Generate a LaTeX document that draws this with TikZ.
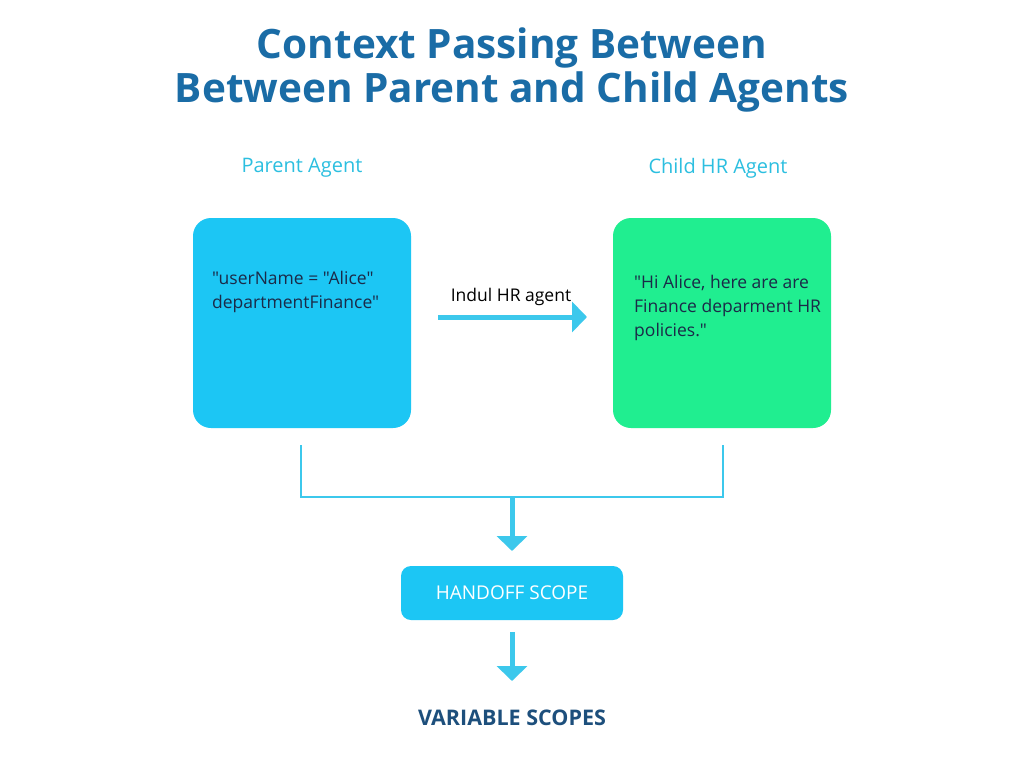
\documentclass[tikz,border=0pt]{standalone}
\usepackage{fontspec}
\setmainfont{Open Sans}[Ligatures=TeXOff]
\usetikzlibrary{arrows.meta}
\definecolor{titleblue}{HTML}{1A6CA6}
\definecolor{cyanbox}{HTML}{1CC6F4}
\definecolor{greenbox}{HTML}{20EE90}
\definecolor{labelcyan}{HTML}{2CBFE0}
\definecolor{navytext}{HTML}{1B2A48}
\definecolor{linecyan}{HTML}{3CC8EC}
\definecolor{scopeblue}{HTML}{1D4F7C}
\tikzset{
  agentbox/.style={rounded corners=18pt, minimum width=218pt, minimum height=210pt, inner sep=0pt},
  heading/.style={text=labelcyan, font=\fontsize{20}{24}\selectfont},
  bodytext/.style={text=navytext, font=\fontsize{17.5}{24}\selectfont, align=left, anchor=north west, inner sep=0pt},
  thickarrow/.style={draw=linecyan, line width=5pt, -{Triangle[length=15pt,width=30pt]}},
  thinline/.style={draw=linecyan, line width=1.8pt},
}
\begin{document}
\begin{tikzpicture}[x=1pt,y=-1pt]
\useasboundingbox[fill=white] (0,0) rectangle (1024,768);
% title
\node[text=titleblue, font=\fontsize{40.5}{44}\selectfont\bfseries, align=center] (title) at (512,70)
  {Context Passing Between\\Between Parent and Child Agents};
% headings
\node[heading] (ph) at (302,168) {Parent Agent};
\node[heading] (ch) at (718,168) {Child HR Agent};
% boxes
\node[agentbox, fill=cyanbox] (parent) at (302,323) {};
\node[agentbox, fill=greenbox] (child) at (722,323) {};
\node[bodytext] (ptext) at (212,271) {"userName = "Alice"\\departmentFinance"};
\node[bodytext] (ctext) at (634,275) {"Hi Alice, here are are\\Finance deparment HR\\policies."};
% middle arrow
\coordinate (a1) at (438,317);
\coordinate (a2) at (587,317);
\draw[thickarrow] (a1) -- (a2);
\node[text=black, font=\fontsize{17.5}{20}\selectfont] (alabel) at (511,297) {Indul HR agent};
% bracket
\coordinate (bl) at (301,445);
\coordinate (br) at (723,445);
\coordinate (bm) at (512,497);
\coordinate (bend) at (512,551);
\draw[thinline] (bl) -- (301,497) -- (723,497) -- (br);
% handoff
\node[rounded corners=10pt, fill=cyanbox, minimum width=222pt, minimum height=54pt, text=white, font=\fontsize{19}{22}\selectfont] (handoff) at (512,593) {HANDOFF SCOPE};
\draw[thickarrow] (bm) -- (bend);
\coordinate (c1) at (512,632);
\coordinate (c2) at (512,681);
\draw[thickarrow] (c1) -- (c2);
\node[text=scopeblue, font=\fontsize{21.5}{24}\selectfont\bfseries] (vs) at (512,718) {VARIABLE SCOPES};
\end{tikzpicture}
\end{document}
